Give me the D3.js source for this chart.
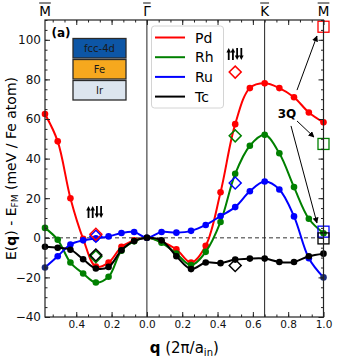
<!DOCTYPE html>
<html>
<head>
<meta charset="utf-8">
<script src="https://cdn.jsdelivr.net/npm/d3@7"></script>
<style>
body { margin: 0; background: #fff; }
svg { font-family: "DejaVu Sans", sans-serif; }
</style>
</head>
<body>
<svg id="chart" width="337" height="359"></svg>
<script>
// q points along M - Gamma (left, negative) and Gamma - K - M (right)
const qPoints = [-0.577, -0.505, -0.433, -0.361, -0.289, -0.217, -0.144, -0.072, 0,
  0.083, 0.167, 0.25, 0.333, 0.417, 0.5, 0.583, 0.667, 0.75, 0.833, 0.917, 1.0];

const pdValues = [62.5, 48.7, 20, -0.5, -14.5, -12.5, -4.6, -1.3, 0,
  -2, -5.8, -12.5, -4, 23, 57.4, 75.6, 78, 75.6, 71, 63.3, 58.3];
const rhValues = [5, -1, -12.5, -18, -22.6, -19.7, -6.5, -1.8, 0,
  -2.5, -8, -13.8, -7.1, 8, 32.3, 46.5, 52, 42.7, 25.6, 9.6, 2.3];
const ruValues = [-15, -9.3, -3.4, -1.3, -0.3, 0.7, 2.4, 2.9, 0,
  2.9, 2.6, 3.5, 6.5, 11, 15.5, 23.5, 28.4, 24.4, 10.8, -10.3, -20];
const tcValues = [-4.5, -5, -6, -10.8, -15.5, -14.7, -6.3, -1.6, 0,
  -1.3, -9.3, -15.8, -12.5, -12.8, -11, -10.5, -10.5, -12.2, -12.2, -9.3, -8];

const seriesNames = ['Pd', 'Rh', 'Ru', 'Tc'];
const seriesColors = ['red', 'green', 'blue', 'black'];

// uudd states (open diamonds)
const diamondQ = [-0.289, 0.5];
const diamondPd = [1.8, 83.7];
const diamondRh = [-9.5, 51.5];
const diamondRu = [0.8, 27.7];
const diamondTc = [-8.7, -14];

// 3Q states at M (open squares), order Pd Rh Ru Tc
const squareQ = 1.0;
const squareValues = [106.6, 47.4, 3.1, -0.3];

const xTicks = [-0.4, -0.2, 0, 0.2, 0.4, 0.6, 0.8, 1.0];
const yTicks = [-40, -20, 0, 20, 40, 60, 80, 100];
const symLabels = ['M', 'Γ', 'K', 'M'];
const symQ = [-0.577, 0, 0.6667, 1.0];

const stackLabels = ['fcc-4d', 'Fe', 'Ir'];
const stackColors = ['#0d56a6', '#f6a81e', '#dce5ef'];

const svg = d3.select('#chart');
const mLeft = 45, mRight = 323.5, mTop = 20, mBottom = 317;

const x = d3.scaleLinear().domain([-0.577, 1]).range([mLeft, mRight]);
const y = d3.scaleLinear().domain([-40, 110]).range([mBottom, mTop]);

svg.append('defs').append('clipPath').attr('id', 'clip')
  .append('rect')
  .attr('x', mLeft).attr('y', mTop)
  .attr('width', mRight - mLeft).attr('height', mBottom - mTop);

svg.append('defs').append('marker')
  .attr('id', 'arrow')
  .attr('viewBox', '0 0 10 10')
  .attr('refX', 9).attr('refY', 5)
  .attr('markerWidth', 6).attr('markerHeight', 6)
  .attr('markerUnits', 'userSpaceOnUse')
  .attr('orient', 'auto')
  .append('path')
  .attr('d', 'M0,0 L10,5 L0,10 z')
  .attr('fill', 'black');

// zero line and high-symmetry verticals
svg.append('line')
  .attr('x1', mLeft).attr('x2', mRight)
  .attr('y1', y(0)).attr('y2', y(0))
  .attr('stroke', '#777').attr('stroke-width', 1.5)
  .attr('stroke-dasharray', '4,3');

svg.selectAll('.vline')
  .data([0, 0.6667])
  .enter()
  .append('line')
  .attr('class', 'vline')
  .attr('x1', (d) => x(d)).attr('x2', (d) => x(d))
  .attr('y1', mTop).attr('y2', mBottom)
  .attr('stroke', '#222').attr('stroke-width', 1);

const allValues = [pdValues, rhValues, ruValues, tcValues];

const line = d3.line()
  .x((d) => x(d.q))
  .y((d) => y(d.v))
  .curve(d3.curveCatmullRom.alpha(0.5));

allValues.forEach((vals, i) => {
  const pts = qPoints.map((q, k) => ({ q: q, v: vals[k] }));
  svg.append('path')
    .datum(pts)
    .attr('clip-path', 'url(#clip)')
    .attr('fill', 'none')
    .attr('stroke', seriesColors[i])
    .attr('stroke-width', 2)
    .attr('d', line);

  svg.append('g')
    .selectAll('circle')
    .data(pts)
    .enter()
    .append('circle')
    .attr('cx', (d) => x(d.q))
    .attr('cy', (d) => y(d.v))
    .attr('r', 3.3)
    .attr('fill', (d, k) => (i === 2 && (k === 0 || k === pts.length - 1)) ? '#1c2c78' : seriesColors[i]);
});

// diamonds
const diamondSets = [diamondRu, diamondPd, diamondRh, diamondTc];
const diamondColors = ['blue', 'red', 'green', 'black'];
diamondSets.forEach((vals, i) => {
  svg.append('g')
    .selectAll('path')
    .data(diamondQ.map((q, k) => ({ q: q, v: vals[k] })))
    .enter()
    .append('path')
    .attr('d', d3.symbol().type(d3.symbolSquare).size(72))
    .attr('transform', (d) => `translate(${x(d.q)},${y(d.v)}) rotate(45)`)
    .attr('fill', 'none')
    .attr('stroke', diamondColors[i])
    .attr('stroke-width', 1.5);
});

// squares (3Q)
svg.append('g')
  .selectAll('rect')
  .data(squareValues)
  .enter()
  .append('rect')
  .attr('x', x(squareQ) - 5.5)
  .attr('y', (d) => y(d) - 5.5)
  .attr('width', 11).attr('height', 11)
  .attr('fill', 'none')
  .attr('stroke', (d, i) => seriesColors[i])
  .attr('stroke-width', 1.3);

// 3Q annotation
svg.append('text')
  .attr('x', x(0.793)).attr('y', y(60.5))
  .attr('text-anchor', 'middle')
  .attr('font-size', 12).attr('font-weight', 'bold')
  .text('3Q');

const arrows = [
  [0.85, 74.6, 0.963, 101.9],
  [0.85, 59, 0.946, 50.9],
  [0.816, 56.5, 0.963, 7.5]
];
svg.append('g')
  .selectAll('line')
  .data(arrows)
  .enter()
  .append('line')
  .attr('x1', (d) => x(d[0])).attr('y1', (d) => y(d[1]))
  .attr('x2', (d) => x(d[2])).attr('y2', (d) => y(d[3]))
  .attr('stroke', 'black').attr('stroke-width', 1)
  .attr('marker-end', 'url(#arrow)');

// uudd spin labels drawn as small arrows
const spinAnchors = [[-0.295, 10], [0.499, 89.8]];
const spinDirs = [1, 1, -1, -1];
spinAnchors.forEach((a) => {
  const cx = x(a[0]), base = y(a[1]);
  const g = svg.append('g');
  spinDirs.forEach((dir, k) => {
    const px = cx - 6.3 + k * 4.2;
    const yTop = base - 12, yBot = base;
    const tip = dir > 0 ? yTop : yBot;
    const tail = dir > 0 ? yBot : yTop;
    g.append('line')
      .attr('x1', px).attr('x2', px)
      .attr('y1', tail).attr('y2', tip + dir * 3)
      .attr('stroke', '#000').attr('stroke-width', 1.8);
    g.append('path')
      .attr('d', `M${px - 2.3},${tip + dir * 4.5} L${px},${tip} L${px + 2.3},${tip + dir * 4.5} Z`)
      .attr('fill', '#000');
  });
});

// axes: ticks pointing inward on all four sides
const fmtX = (d) => d3.format('.1f')(Math.abs(d));
const xMinor = d3.range(-8, 16).map((k) => k * 0.2 / 3).filter((d) => d > -0.577 && d < 1.0);
const yMinor = d3.range(-40, 111, 5);

const gx = svg.append('g')
  .attr('transform', `translate(0,${mBottom})`)
  .call(d3.axisBottom(x).tickValues(xTicks).tickSize(-5).tickPadding(4).tickFormat(fmtX));
gx.selectAll('text').attr('font-size', 10.5).attr('font-family', 'DejaVu Sans').attr('fill', '#111');
svg.append('g')
  .attr('transform', `translate(0,${mBottom})`)
  .call(d3.axisBottom(x).tickValues(xMinor).tickSize(-2.5).tickFormat(''));
svg.append('g')
  .attr('transform', `translate(0,${mTop})`)
  .call(d3.axisTop(x).tickValues(xTicks).tickSize(-5).tickFormat(''));
svg.append('g')
  .attr('transform', `translate(0,${mTop})`)
  .call(d3.axisTop(x).tickValues(xMinor).tickSize(-2.5).tickFormat(''));

const gy = svg.append('g')
  .attr('transform', `translate(${mLeft},0)`)
  .call(d3.axisLeft(y).tickValues(yTicks).tickSize(-5).tickPadding(4).tickFormat(d3.format('d')));
gy.selectAll('text').attr('font-size', 12).attr('font-family', 'DejaVu Sans').attr('fill', '#111')
  .text((d) => d < 0 ? '\u2212' + Math.abs(d) : d);
svg.append('g')
  .attr('transform', `translate(${mLeft},0)`)
  .call(d3.axisLeft(y).tickValues(yMinor).tickSize(-2.5).tickFormat(''));
svg.append('g')
  .attr('transform', `translate(${mRight},0)`)
  .call(d3.axisRight(y).tickValues(yTicks).tickSize(-5).tickFormat(''));
svg.append('g')
  .attr('transform', `translate(${mRight},0)`)
  .call(d3.axisRight(y).tickValues(yMinor).tickSize(-2.5).tickFormat(''));

svg.selectAll('.domain').remove();
svg.selectAll('.tick line').attr('stroke', '#222');

svg.append('rect')
  .attr('x', mLeft).attr('y', mTop)
  .attr('width', mRight - mLeft).attr('height', mBottom - mTop)
  .attr('fill', 'none').attr('stroke', '#222').attr('stroke-width', 1.2);

// high-symmetry labels with overline
symQ.forEach((q, i) => {
  const t = svg.append('text')
    .attr('x', x(q)).attr('y', 16)
    .attr('text-anchor', 'middle')
    .attr('font-size', 13.5)
    .text(symLabels[i]);
  const w = t.node().getComputedTextLength();
  svg.append('line')
    .attr('x1', x(q) - w / 2).attr('x2', x(q) + w / 2)
    .attr('y1', 3).attr('y2', 3)
    .attr('stroke', '#111').attr('stroke-width', 1);
});

// legend
const legend = svg.append('g');
legend.append('rect')
  .attr('x', 151.5).attr('y', 26)
  .attr('width', 72).attr('height', 82)
  .attr('rx', 3)
  .attr('fill', 'white').attr('fill-opacity', 0.85)
  .attr('stroke', '#d4d4d4');
const legendRows = legend.selectAll('.row')
  .data(seriesNames)
  .enter()
  .append('g')
  .attr('class', 'row')
  .attr('transform', (d, i) => `translate(155,${37.5 + i * 19.7})`);
legendRows.append('line')
  .attr('x1', 0).attr('x2', 30)
  .attr('stroke', (d, i) => seriesColors[i]).attr('stroke-width', 2);
legendRows.append('text')
  .attr('x', 40).attr('y', 5)
  .attr('font-size', 14)
  .text((d) => d);

// stack inset
const stack = svg.append('g');
stack.selectAll('rect')
  .data(stackLabels)
  .enter()
  .append('rect')
  .attr('x', 73).attr('y', (d, i) => 38.5 + i * 21)
  .attr('width', 53).attr('height', 19.5)
  .attr('fill', (d, i) => stackColors[i])
  .attr('stroke', '#2a2a2a').attr('stroke-width', 1.3);
stack.selectAll('text')
  .data(stackLabels)
  .enter()
  .append('text')
  .attr('x', 99.5).attr('y', (d, i) => 52 + i * 21)
  .attr('text-anchor', 'middle')
  .attr('font-size', 10)
  .attr('fill', '#1a1a1a')
  .text((d) => d);

svg.append('text')
  .attr('x', 51.5).attr('y', 37)
  .attr('font-size', 12).attr('font-weight', 'bold')
  .text('(a)');

// axis labels
const xl = svg.append('text')
  .attr('x', (mLeft + mRight) / 2).attr('y', 353)
  .attr('text-anchor', 'middle')
  .attr('font-size', 15);
xl.append('tspan').attr('font-weight', 'bold').text('q');
xl.append('tspan').text(' (2π/a');
xl.append('tspan').attr('font-size', 10).attr('dy', 3).text('in');
xl.append('tspan').attr('dy', -3).text(')');

const yl = svg.append('text')
  .attr('transform', `translate(16,${(mTop + mBottom) / 2}) rotate(-90)`)
  .attr('text-anchor', 'middle')
  .attr('font-size', 14);
yl.append('tspan').text('E(');
yl.append('tspan').attr('font-weight', 'bold').text('q');
yl.append('tspan').text(') - E');
yl.append('tspan').attr('font-size', 9).attr('dy', 2).text('FM');
yl.append('tspan').attr('dy', -2).text(' (meV / Fe atom)');
</script>
</body>
</html>
